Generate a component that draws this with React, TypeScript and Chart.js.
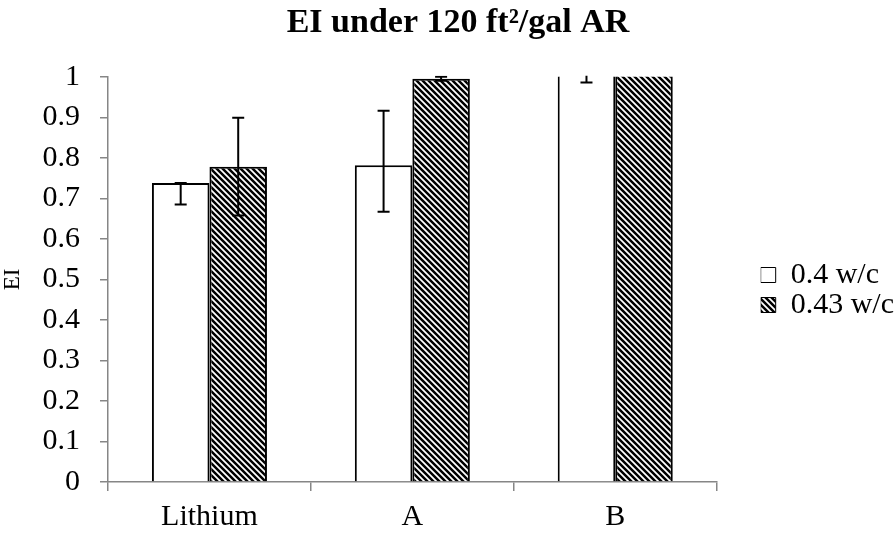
import { useEffect, useRef } from "react";
import { Chart, registerables } from "chart.js";

Chart.register(...registerables);

// Chart content
const chartTitle = "EI under 120 ft²/gal AR";
const yAxisTitle = "EI";
const categories = ["Lithium", "A", "B"];
const seriesNames = ["0.4 w/c", "0.43 w/c"];

// EI values per mix
const ei040 = [0.738, 0.782, 1.01];
const ei043 = [0.778, 0.995, 1.02];

// error bar extents (above / below the value)
const err040Plus = [0.0, 0.134, 0.024];
const err040Minus = [0.053, 0.115, 0.024];
const err043Plus = [0.121, 0.005, 0.01];
const err043Minus = [0.12, 0.005, 0.01];

const yTickLabels = ["0", "0.1", "0.2", "0.3", "0.4", "0.5", "0.6", "0.7", "0.8", "0.9", "1"];

const FONT = "'Liberation Serif', 'Times New Roman', serif";
const AXIS_GREY = "#868686";

function makeHatch(): CanvasPattern | string {
  const s = 6;
  const c = document.createElement("canvas");
  c.width = s;
  c.height = s;
  const g = c.getContext("2d");
  if (!g) return "#666";
  g.fillStyle = "#fff";
  g.fillRect(0, 0, s, s);
  g.strokeStyle = "#000";
  g.lineWidth = 2.5;
  g.beginPath();
  for (const o of [-s, 0, s]) {
    g.moveTo(o - 2, -2);
    g.lineTo(o + s + 2, s + 2);
  }
  g.stroke();
  return g.createPattern(c, "repeat") ?? "#666";
}

const errPlus = [err040Plus, err043Plus];
const errMinus = [err040Minus, err043Minus];

const errorBarPlugin = {
  id: "errorBars",
  afterDatasetsDraw(chart: any) {
    const { ctx, chartArea, scales } = chart;
    const y = scales.y;
    ctx.save();
    ctx.beginPath();
    ctx.rect(chartArea.left, chartArea.top - 1, chartArea.right - chartArea.left, chartArea.bottom - chartArea.top + 1);
    ctx.clip();
    ctx.strokeStyle = "#000";
    ctx.lineWidth = 2;
    chart.data.datasets.forEach((ds: any, di: number) => {
      const meta = chart.getDatasetMeta(di);
      meta.data.forEach((bar: any, i: number) => {
        const v = ds.data[i] as number;
        const yTop = y.getPixelForValue(v + errPlus[di][i]);
        const yBot = y.getPixelForValue(v - errMinus[di][i]);
        const x = bar.x;
        const cap = 6;
        ctx.beginPath();
        ctx.moveTo(x, yTop);
        ctx.lineTo(x, yBot);
        ctx.moveTo(x - cap, yTop);
        ctx.lineTo(x + cap, yTop);
        ctx.moveTo(x - cap, yBot);
        ctx.lineTo(x + cap, yBot);
        ctx.stroke();
      });
    });
    ctx.restore();
  },
};

export default function App() {
  const canvasRef = useRef<HTMLCanvasElement | null>(null);

  useEffect(() => {
    const canvas = canvasRef.current;
    if (!canvas) return;
    const hatch = makeHatch();

    const chart = new Chart(canvas, {
      type: "bar",
      data: {
        labels: categories,
        datasets: [
          {
            label: seriesNames[0],
            data: ei040,
            backgroundColor: "#ffffff",
            borderColor: "#000000",
            borderWidth: 2,
            clip: 0,
          },
          {
            label: seriesNames[1],
            data: ei043,
            backgroundColor: hatch as any,
            borderColor: "#000000",
            borderWidth: 2,
            clip: 0,
          },
        ],
      },
      options: {
        responsive: false,
        animation: false,
        devicePixelRatio: 1,
        layout: { padding: { left: 12, right: -8, top: 0, bottom: 0 } },
        datasets: { bar: { categoryPercentage: 0.567, barPercentage: 1 } },
        plugins: {
          title: {
            display: true,
            text: chartTitle,
            color: "#000",
            font: { family: FONT, size: 34, weight: "bold", lineHeight: 1.2 },
            padding: { top: 3, bottom: 33 },
          },
          legend: {
            display: true,
            position: "right",
            align: "center",
            title: { display: true, text: "", font: { size: 10, lineHeight: 4.7 }, padding: 0 },
            labels: {
              color: "#000",
              font: { family: FONT, size: 30 },
              boxWidth: 15,
              boxHeight: 15,
              padding: 0,
              generateLabels: (c: any) =>
                Chart.defaults.plugins.legend.labels
                  .generateLabels(c)
                  .map((l: any) => ({ ...l, lineWidth: 1, strokeStyle: "#000" })),
            },
          },
          tooltip: { enabled: false },
        },
        scales: {
          x: {
            grid: {
              display: true,
              drawOnChartArea: false,
              drawTicks: true,
              tickLength: 9,
              color: AXIS_GREY,
              lineWidth: 1.5,
              offset: true,
            },
            border: { display: true, color: AXIS_GREY, width: 1.5 },
            ticks: {
              color: "#000",
              font: { family: FONT, size: 30, lineHeight: 1.2 },
              padding: 8,
              maxRotation: 0,
            },
            afterFit: (s: any) => {
              s.height = 51;
            },
          },
          y: {
            min: 0,
            max: 1,
            grid: {
              display: true,
              drawOnChartArea: false,
              drawTicks: true,
              tickLength: 8,
              color: AXIS_GREY,
              lineWidth: 1.5,
            },
            border: { display: true, color: AXIS_GREY, width: 1.5 },
            ticks: {
              stepSize: 0.1,
              color: "#000",
              font: { family: FONT, size: 30 },
              padding: 20,
              callback: (_v: any, i: number) => yTickLabels[i],
            },
            title: {
              display: true,
              text: yAxisTitle,
              color: "#000",
              font: { family: FONT, size: 23, lineHeight: 1 },
              padding: { top: -11, bottom: 0 },
            },
            afterFit: (s: any) => {
              s.width = 96;
            },
          },
          gap: {
            type: "linear",
            position: "right",
            display: true,
            grid: { display: false },
            border: { display: false },
            ticks: { display: false },
            afterFit: (s: any) => {
              s.width = 44;
            },
          },
        },
      },
      plugins: [errorBarPlugin],
    });

    return () => chart.destroy();
  }, []);

  return (
    <div style={{ position: "absolute", left: 0, top: 0, width: 896, height: 533, background: "#fff" }}>
      <canvas ref={canvasRef} width={896} height={533} style={{ display: "block" }} />
    </div>
  );
}
